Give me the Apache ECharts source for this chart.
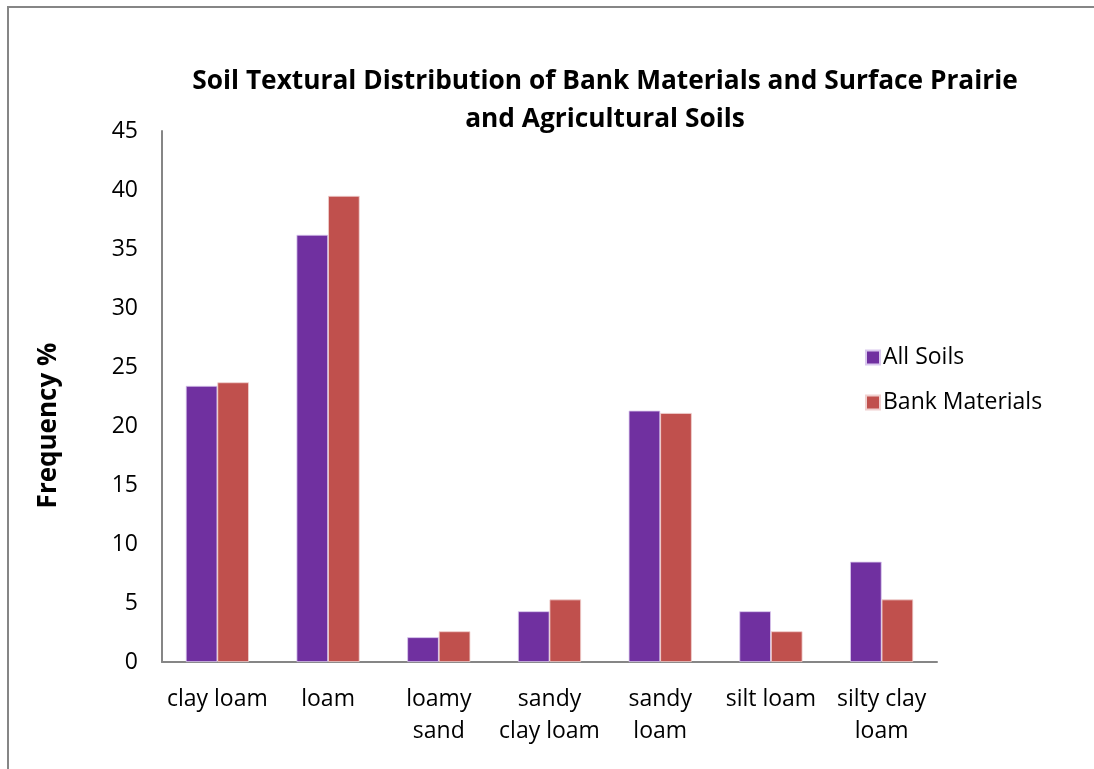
<!DOCTYPE html>
<html>
<head>
<meta charset="utf-8">
<script src="https://cdn.jsdelivr.net/npm/echarts@6/dist/echarts.min.js"></script>
<style>
html,body{margin:0;padding:0;background:#fff;}
#chart{width:1094px;height:769px;}
</style>
</head>
<body>
<div id="chart"></div>
<script>
const categories = ['clay loam', 'loam', 'loamy sand', 'sandy clay loam', 'sandy loam', 'silt loam', 'silty clay loam'];
const tickLabels = ['clay loam', 'loam', 'loamy\nsand', 'sandy\nclay loam', 'sandy\nloam', 'silt loam', 'silty clay\nloam'];
const allSoils = [23.4, 36.2, 2.1, 4.3, 21.3, 4.3, 8.5];
const bankMaterials = [23.7, 39.5, 2.6, 5.3, 21.1, 2.6, 5.3];
const yTicks = { min: 0, max: 45, interval: 5 };

const FONT = '"Open Sans", Lato, sans-serif';
const chart = echarts.init(document.getElementById('chart'));
chart.setOption({
  backgroundColor: '#ffffff',
  animation: false,
  textStyle: { fontFamily: FONT },
  title: {
    text: 'Soil Textural Distribution of Bank Materials and Surface Prairie\nand Agricultural Soils',
    left: 600, top: 58, textAlign: 'center',
    textStyle: { fontFamily: FONT, fontSize: 26.3, fontWeight: 'bold', color: '#000', lineHeight: 38 }
  },
  legend: {
    orient: 'vertical', left: 860, top: 341,
    icon: 'rect', itemWidth: 14, itemHeight: 14, itemGap: 22,
    textStyle: { fontFamily: FONT, fontSize: 23, color: '#000', padding: [0, 0, 0, -2] },
    data: ['All Soils', 'Bank Materials']
  },
  grid: { left: 162, right: 157, top: 131, bottom: 107, containLabel: false },
  xAxis: {
    type: 'category', data: categories,
    axisLine: { show: true, lineStyle: { color: '#868686', width: 2 } },
    axisTick: { show: false },
    axisLabel: {
      interval: 0, margin: 21, color: '#000', fontSize: 23, lineHeight: 32, fontFamily: FONT,
      formatter: (v, i) => tickLabels[i]
    }
  },
  yAxis: {
    type: 'value', min: yTicks.min, max: yTicks.max, interval: yTicks.interval,
    name: 'Frequency %', nameLocation: 'middle', nameGap: 100, nameRotate: 90,
    nameTextStyle: { fontFamily: FONT, fontSize: 26, fontWeight: 'bold', color: '#000', padding: [0, 58, 0, 0] },
    axisLine: { show: true, lineStyle: { color: '#868686', width: 2 } },
    axisTick: { show: false },
    splitLine: { show: false },
    axisLabel: { color: '#000', fontSize: 23, margin: 24, fontFamily: FONT }
  },
  series: [
    { name: 'All Soils', type: 'bar', data: allSoils, barGap: '0%', barCategoryGap: '43%',
      itemStyle: { color: '#7030A0', borderColor: '#d9c8ee', borderWidth: 0.8 } },
    { name: 'Bank Materials', type: 'bar', data: bankMaterials,
      itemStyle: { color: '#C0504D', borderColor: '#f0d0cf', borderWidth: 0.8 } }
  ],
  graphic: [
    { type: 'polyline', silent: true, z: 100,
      shape: { points: [[8, 780], [8, 7], [1100, 7]] },
      style: { stroke: '#868686', lineWidth: 2, fill: null } }
  ]
});
</script>
</body>
</html>
